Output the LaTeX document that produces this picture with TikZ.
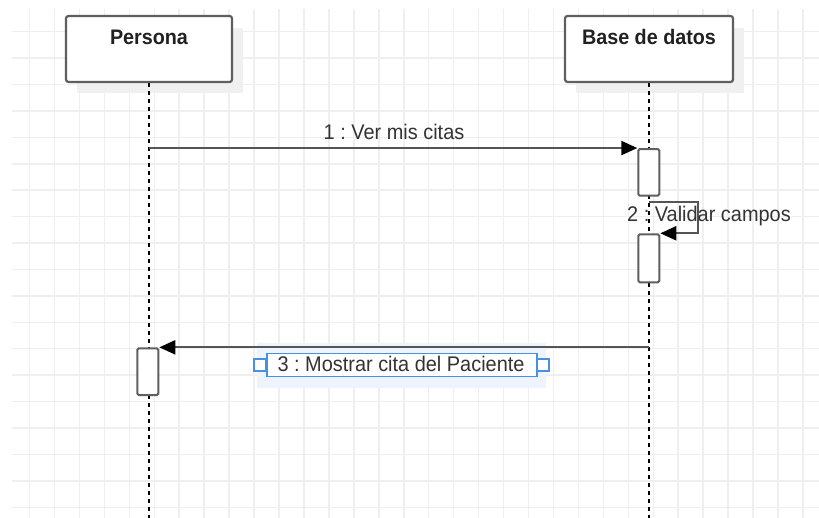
\documentclass[tikz,border=0pt]{standalone}
\usepackage{fontspec}
\setmainfont{Liberation Sans}[FakeStretch=0.94]
\usetikzlibrary{arrows.meta}
\frenchspacing
\definecolor{gridc}{HTML}{EFEFEF}
\definecolor{shadowc}{HTML}{F0F0F0}
\definecolor{boxc}{HTML}{5F5F5F}
\definecolor{msgc}{HTML}{555555}
\definecolor{txtc}{HTML}{333333}
\definecolor{selbg}{HTML}{EEF4FD}
\definecolor{selc}{HTML}{4A90E2}
\tikzset{
  gridline/.style={draw=gridc, line width=1.5pt},
  hdrbox/.style={draw=boxc, fill=white, line width=2.2pt, rounded corners=2.5pt, minimum height=66pt, inner sep=0pt},
  hdrtext/.style={text=black!87, font=\fontsize{21}{25}\selectfont\bfseries, inner sep=0pt},
  lifeline/.style={draw=black, line width=1.4pt, dash pattern=on 4pt off 4pt},
  actbox/.style={draw=boxc, fill=white, line width=2pt, rounded corners=1.5pt, minimum width=21pt, inner sep=0pt},
  msg/.style={draw=msgc, line width=2.2pt, -{Triangle[length=16pt,width=14pt,color=black]}},
  lbl/.style={text=txtc, font=\fontsize{21.2}{25}\selectfont, inner sep=0pt},
  selbox/.style={draw=selc, fill=white, line width=1.4pt, minimum width=270pt, minimum height=23pt, inner sep=0pt},
  handle/.style={draw=selc, fill=white, line width=1.4pt, minimum size=12pt, inner sep=0pt}
}
\begin{document}
\begin{tikzpicture}[x=1pt,y=-1pt]
\useasboundingbox (0,0) rectangle (819,518);
\fill[white] (0,0) rectangle (819,518);
% grid
\foreach \k in {0,...,31} \draw[gridline] ({29.5+24.95*\k},9) -- ({29.5+24.95*\k},518);
\foreach \k in {0,...,18} \draw[gridline] (12,{31.7+26.42*\k}) -- (819,{31.7+26.42*\k});
% header shadows
\fill[shadowc] (77,28) rectangle (243,93);
\fill[shadowc] (576,28) rectangle (744,93);
% headers
\node[hdrbox, minimum width=166pt] (persona) at (149,49) {};
\node[hdrbox, minimum width=168pt] (base) at (649,49) {};
\node[hdrtext] (personaT) at ([yshift=-22.5pt]persona.north) {Persona};
\node[hdrtext] (baseT) at ([yshift=-22.5pt]base.north) {Base de datos};
% lifelines
\coordinate (pEnd) at (149,518);
\coordinate (bEnd) at (649,518);
\draw[lifeline] (persona.south) -- (pEnd);
\draw[lifeline] (base.south) -- (bEnd);
% selection background of label 3
\fill[selbg] (257,343) rectangle (546,388);
% activations
\node[actbox, minimum height=46.7pt] (a1) at (648.8,172.4) {};
\node[actbox, minimum height=48pt] (a2) at (648.8,258.3) {};
\node[actbox, minimum height=46.7pt] (a3) at (147.8,371.7) {};
% message 1
\draw[msg] (persona.center |- a1.north) -- (a1.north west);
\node[lbl] (m1) at (394,132) {1 : Ver mis citas};
% message 2 (self)
\coordinate (s2) at (649,202);
\draw[msg] (s2) -| ([xshift=38pt]a2.north east) -- (a2.north east);
\node[lbl, anchor=west] (m2) at (627,216) {2 : Validar campos};
% message 3
\draw[msg] (base.center |- a3.north) -- (a3.north east);
\node[selbox] (m3box) at (402,365) {};
\node[handle] (hL) at (260,365) {};
\node[handle] (hR) at (543,365) {};
\node[lbl] (m3) at (401,364) {3 : Mostrar cita del Paciente};
\end{tikzpicture}
\end{document}
